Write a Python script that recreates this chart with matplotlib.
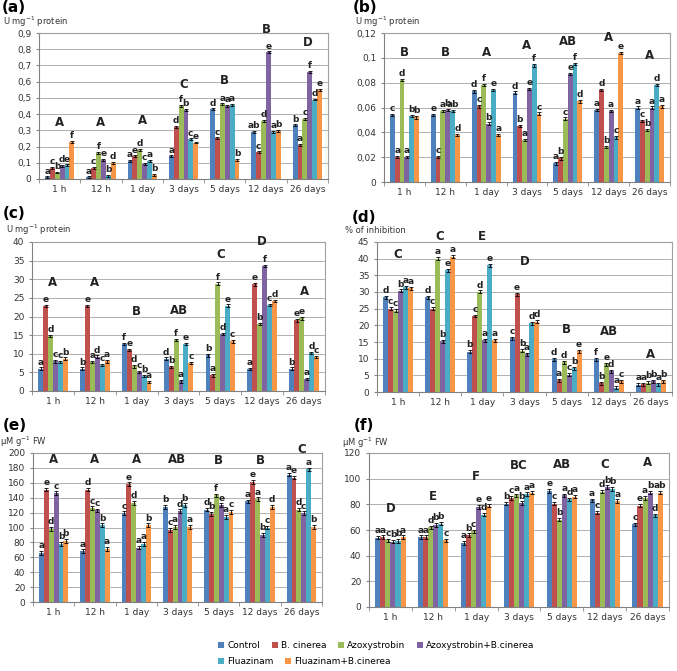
import matplotlib
matplotlib.use("Agg")
import matplotlib.pyplot as plt
import numpy as np
from matplotlib.patches import Patch
from matplotlib.ticker import FuncFormatter

# groups and series
times = ["1 h", "12 h", "1 day", "3 days", "5 days", "12 days", "26 days"]
series = ["Control", "B. cinerea", "Azoxystrobin", "Azoxystrobin+B.cinerea",
          "Fluazinam", "Fluazinam+B.cinerea"]
colors = ["#4F81BD", "#C0504D", "#9BBB59", "#8064A2", "#4BACC6", "#F79646"]

# panel (a)
a_vals = [[0.01, 0.07, 0.04, 0.08, 0.085, 0.23],
          [0.01, 0.07, 0.16, 0.12, 0.02, 0.10],
          [0.11, 0.14, 0.18, 0.095, 0.11, 0.025],
          [0.14, 0.32, 0.45, 0.425, 0.245, 0.225],
          [0.43, 0.25, 0.46, 0.45, 0.455, 0.12],
          [0.29, 0.165, 0.36, 0.78, 0.29, 0.295],
          [0.33, 0.21, 0.37, 0.66, 0.49, 0.55]]
a_letters = [["a", "c", "b", "d", "e", "f"], ["a", "c", "f", "e", "b", "d"],
             ["a", "e", "d", "c", "a", "b"], ["a", "d", "f", "b", "c", "e"],
             ["d", "c", "a", "a", "a", "b"], ["ab", "c", "d", "e", "a", "b"],
             ["b", "a", "c", "f", "d", "e"]]
a_groups = ["A", "A", "A", "C", "B", "B", "D"]
a_group_y = [0.35, 0.35, 0.36, 0.58, 0.605, 0.92, 0.84]

# panel (b)
b_vals = [[0.054, 0.020, 0.082, 0.020, 0.053, 0.052],
          [0.054, 0.020, 0.057, 0.058, 0.057, 0.038],
          [0.073, 0.061, 0.078, 0.047, 0.074, 0.038],
          [0.072, 0.045, 0.034, 0.075, 0.094, 0.055],
          [0.015, 0.019, 0.051, 0.087, 0.095, 0.065],
          [0.058, 0.074, 0.028, 0.057, 0.036, 0.104],
          [0.060, 0.049, 0.042, 0.060, 0.078, 0.061]]
b_letters = [["c", "a", "d", "a", "b", "b"], ["e", "c", "a", "b", "ab", "d"],
             ["d", "c", "f", "b", "e", "a"], ["d", "b", "a", "e", "f", "c"],
             ["a", "b", "c", "e", "f", "d"], ["a", "d", "b", "a", "c", "e"],
             ["a", "c", "b", "a", "d", "a"]]
b_groups = ["B", "B", "A", "A", "AB", "A", "A"]
b_group_y = [0.104, 0.104, 0.104, 0.110, 0.113, 0.116, 0.102]

# panel (c)
c_vals = [[6, 22.8, 14.8, 8, 7.8, 8.7],
          [6, 22.8, 7.8, 9.2, 7, 8],
          [12.6, 11, 6.6, 5.1, 4, 2.4],
          [8.7, 6.4, 13.7, 2.6, 12.6, 7.5],
          [9.6, 4.2, 28.8, 15.3, 22.9, 13.3],
          [5.9, 28.6, 18, 33.6, 23.1, 24.2],
          [6, 19, 19.5, 3.2, 10.2, 9.1]]
c_letters = [["a", "e", "d", "c", "c", "b"], ["b", "e", "a", "d", "c", "a"],
             ["f", "e", "d", "c", "b", "a"], ["d", "b", "f", "a", "e", "c"],
             ["b", "a", "f", "d", "e", "c"], ["a", "e", "b", "f", "c", "d"],
             ["b", "e", "e", "a", "d", "c"]]
c_groups = ["A", "A", "B", "AB", "C", "D", "A"]
c_group_y = [29, 29, 21.3, 21.5, 36.6, 40.2, 26.7]

# panel (d)
d_vals = [[28.4, 25, 24.4, 30.3, 31.4, 31.1],
          [28.4, 25, 40, 15.3, 36.5, 40.6],
          [12.1, 22.8, 30, 15.5, 38, 15.6],
          [16.1, 29.3, 12.4, 11.3, 20.7, 21.1],
          [9.8, 3.6, 8.9, 5.2, 7.2, 12.3],
          [9.9, 2.6, 8.3, 6.2, 1.3, 3.3],
          [2.2, 2.4, 2.8, 3.3, 2.3, 3.3]]
d_letters = [["d", "c", "c", "b", "a", "a"], ["d", "c", "a", "b", "e", "a"],
             ["b", "c", "d", "a", "e", "a"], ["c", "e", "b", "a", "d", "d"],
             ["d", "a", "d", "c", "b", "e"], ["f", "b", "e", "d", "a", "c"],
             ["a", "a", "b", "b", "a", "b"]]
d_groups = ["C", "C", "E", "D", "B", "AB", "A"]
d_group_y = [41.2, 46.5, 46.5, 39, 18.6, 18.1, 11.2]

# panel (e)
e_vals = [[66, 151, 98, 146, 78, 82],
          [68, 151, 126, 123, 103, 71],
          [119, 158, 133, 73, 78, 103],
          [128, 97, 101, 122, 130, 101],
          [124, 118, 143, 130, 114, 121],
          [135, 161, 138, 90, 100, 128],
          [171, 167, 124, 119, 178, 101]]
e_letters = [["a", "e", "d", "c", "b", "b"], ["a", "d", "c", "c", "b", "a"],
             ["c", "e", "d", "a", "a", "b"], ["b", "c", "a", "d", "b", "a"],
             ["d", "b", "f", "e", "a", "c"], ["a", "e", "a", "b", "c", "d"],
             ["a", "e", "d", "c", "a", "b"]]
e_groups = ["A", "A", "A", "AB", "B", "B", "C"]
e_group_y = [191, 191, 191, 191, 190, 190, 205]

# panel (f)
f_vals = [[54, 54.5, 52, 51, 51.5, 54.5],
          [54.5, 54.5, 62, 64, 65, 52],
          [50, 56, 59, 78, 72, 79],
          [80.5, 85, 87, 81, 88, 89],
          [90.5, 80.5, 68, 87, 84, 86],
          [83, 73.5, 90, 93.5, 92, 82.5],
          [64.5, 79, 85, 89, 71.5, 89]]
f_letters = [["a", "a", "c", "b", "b", "a"], ["a", "a", "d", "b", "b", "c"],
             ["a", "b", "c", "e", "d", "e"], ["b", "c", "a", "b", "a", "a"],
             ["e", "c", "b", "a", "d", "a"], ["a", "c", "d", "b", "b", "a"],
             ["c", "e", "a", "b", "d", "ab"]]
f_groups = ["D", "E", "F", "BC", "AB", "C", "A"]
f_group_y = [76.4, 86, 102, 110, 111.4, 111.4, 112.7]


def comma_fmt(v, pos):
    return f"{round(v, 4):g}".replace(".", ",")


def draw_panel(rect, vals, letters, groups, group_y, ymax, ystep, err, fmt=None):
    ax = fig.add_axes(rect)
    vals = np.array(vals)
    n = len(series)
    w = 0.118
    x = np.arange(len(times))
    for j in range(n):
        xs = x + (j - (n - 1) / 2) * w
        ax.bar(xs, vals[:, j], w, color=colors[j], zorder=2,
               yerr=err, error_kw=dict(ecolor="black", elinewidth=0.6,
                                       capsize=1.5, capthick=0.6))
        for i in range(len(times)):
            ax.text(xs[i], vals[i, j] + err + ymax * 0.005, letters[i][j],
                    ha="center", va="bottom", fontsize=6.5, fontweight="bold",
                    color="#222222")
    for i in range(len(times)):
        ax.text(x[i], group_y[i], groups[i], ha="center", va="center",
                fontsize=8.5, fontweight="bold", color="#222222")
    ax.set_xlim(-0.5, len(times) - 0.5)
    ax.set_ylim(0, ymax)
    ax.set_yticks(np.arange(0, ymax + ystep / 2, ystep))
    if fmt:
        ax.yaxis.set_major_formatter(FuncFormatter(fmt))
    ax.set_xticks(x)
    ax.set_xticklabels(times)
    ax.set_xticks(np.arange(-0.5, len(times)), minor=True)
    ax.tick_params(axis="x", which="major", length=0, labelsize=6.5,
                   colors="#333333", pad=4)
    ax.tick_params(axis="x", which="minor", length=3, color="#888888")
    ax.tick_params(axis="y", labelsize=6.5, colors="#333333", length=2,
                   color="#888888")
    ax.grid(axis="y", color="#b0b0b0", linewidth=0.7, zorder=0)
    for s in ax.spines.values():
        s.set_color("#a0a0a0")
        s.set_linewidth(0.8)
    ax.spines["left"].set_color("#808080")
    ax.spines["bottom"].set_color("#808080")
    return ax


W, H = 677, 671
fig = plt.figure(figsize=(W / 100, H / 100), dpi=100)


def frect(l, r, t, b):
    return [l / W, 1 - b / H, (r - l) / W, (b - t) / H]


draw_panel(frect(39, 328, 33, 179), a_vals, a_letters, a_groups, a_group_y,
           0.9, 0.1, 0.006, comma_fmt)
draw_panel(frect(384, 670, 33, 182), b_vals, b_letters, b_groups, b_group_y,
           0.12, 0.02, 0.001, comma_fmt)
draw_panel(frect(32, 325, 242, 391), c_vals, c_letters, c_groups, c_group_y,
           40, 5, 0.35)
draw_panel(frect(377, 672, 242, 392), d_vals, d_letters, d_groups, d_group_y,
           45, 5, 0.45)
draw_panel(frect(33, 322, 453, 602), e_vals, e_letters, e_groups, e_group_y,
           200, 20, 2.5)
draw_panel(frect(369, 669, 453, 607), f_vals, f_letters, f_groups, f_group_y,
           120, 20, 1.3)

# panel labels and unit labels
panel_labels = [("(a)", 2, 8), ("(b)", 353, 8), ("(c)", 3, 214),
                ("(d)", 352, 218), ("(e)", 3, 425), ("(f)", 354, 426)]
for txt, px, py in panel_labels:
    fig.text(px / W, 1 - py / H, txt, fontsize=11, fontweight="bold",
             va="center", ha="left")

unit_labels = [("U mg$^{-1}$ protein", 3, 22), ("U mg$^{-1}$ protein", 355, 22),
               ("U mg$^{-1}$ protein", 6, 230), ("% of inhibition", 345, 231),
               ("μM g$^{-1}$ FW", 0, 442), ("μM g$^{-1}$ FW", 342, 443)]
for txt, px, py in unit_labels:
    fig.text(px / W, 1 - py / H, txt, fontsize=6, va="center", ha="left",
             color="#333333")

# legend in two rows, filled row by row
handles = [Patch(facecolor=c) for c in colors]
leg_kw = dict(loc="upper left", frameon=False, fontsize=6.5,
              handlelength=0.7, handleheight=0.7, handletextpad=0.3,
              columnspacing=1.3, borderaxespad=0, borderpad=0)
fig.legend(handles[:4], series[:4], ncol=4,
           bbox_to_anchor=(218 / W, 1 - 641 / H), **leg_kw)
fig.legend(handles[4:], series[4:], ncol=2,
           bbox_to_anchor=(218 / W, 1 - 657 / H), **leg_kw)

fig.savefig("out.png", dpi=100)
